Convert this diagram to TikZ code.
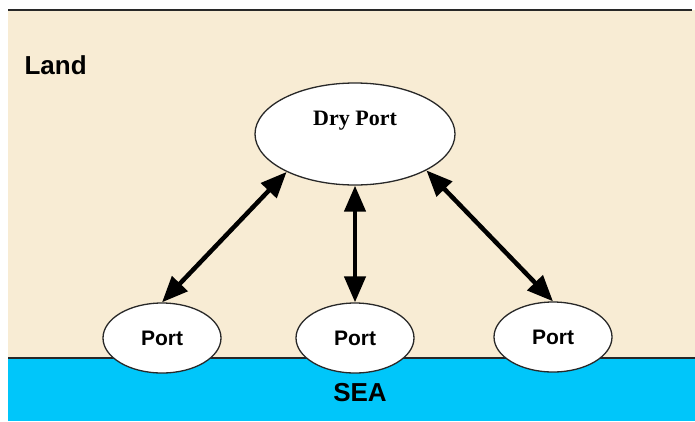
\documentclass[tikz,border=0pt]{standalone}
\usepackage{fontspec}
\setmainfont{Liberation Sans}
\newfontfamily\timesfont{Liberation Serif}
\usetikzlibrary{shapes.geometric,arrows.meta}
\definecolor{landc}{RGB}{248,236,212}
\definecolor{seac}{RGB}{0,198,250}
\definecolor{edgec}{RGB}{40,40,40}
\tikzset{
  portnode/.style={ellipse,draw=edgec,line width=1.3pt,fill=white,minimum width=118pt,minimum height=70pt,inner sep=0pt,font=\fontsize{21}{24}\selectfont\bfseries},
  drynode/.style={ellipse,draw=edgec,line width=1.3pt,fill=white,minimum width=200pt,minimum height=102pt,inner sep=0pt},
  link/.style={line width=4.5pt,{Triangle[length=26pt,width=21pt]}-{Triangle[length=26pt,width=21pt]}},
  lbl/.style={font=\fontsize{26}{29}\selectfont\bfseries}
}
\begin{document}
\begin{tikzpicture}[x=1pt,y=-1pt]
\useasboundingbox (0,0) rectangle (695,421);
\fill[white] (0,0) rectangle (695,421);
\fill[landc] (8,10) rectangle (695,358);
\fill[seac] (8,358) rectangle (695,421);
\draw[edgec,line width=2pt] (8,10) -- (692,10);
\draw[edgec,line width=1.5pt] (8,358) -- (695,358);
\node[lbl,anchor=west] (land) at (21,65) {Land};
\node[lbl] (sea) at (360,393) {SEA};
\node[drynode] (dry) at (355,134) {};
\node[font=\timesfont\fontsize{22}{25}\selectfont\bfseries] (drytext) at (355,121) {Dry Port};
\node[portnode] (p1) at (162,338) {Port};
\node[portnode] (p2) at (355,338) {Port};
\node[portnode] (p3) at (553,337) {Port};
\draw[link] (dry.209) -- (p1.north);
\draw[link] (dry.south) -- (p2.north);
\draw[link] (dry.333) -- (p3.north);
\end{tikzpicture}
\end{document}
